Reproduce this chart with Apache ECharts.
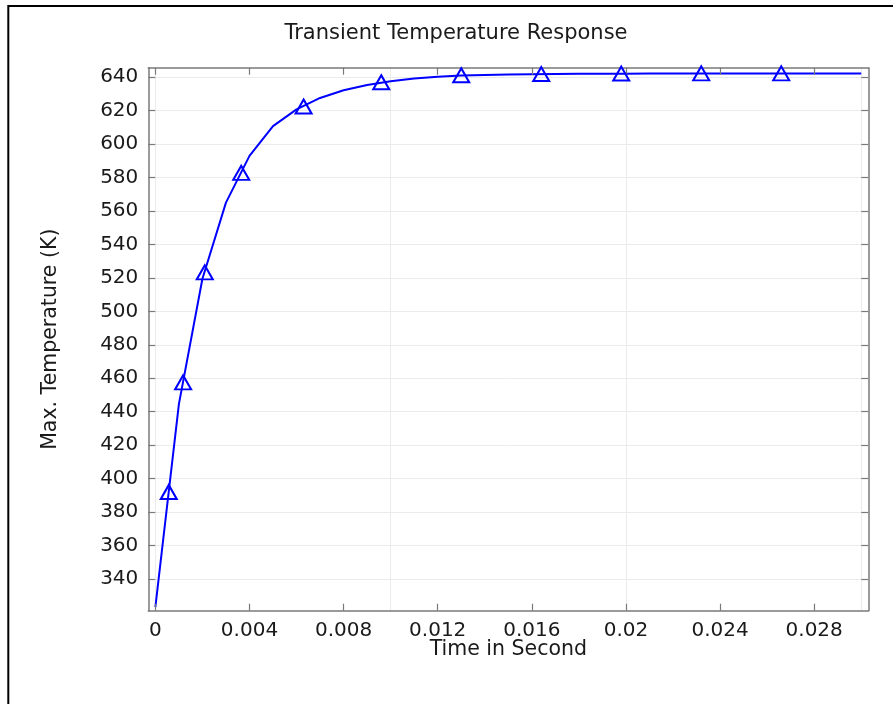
<!DOCTYPE html>
<html>
<head>
<meta charset="utf-8">
<script src="https://cdn.jsdelivr.net/npm/echarts@6/dist/echarts.min.js"></script>
<style>
html,body{margin:0;padding:0;background:#ffffff;}
#chart{width:893px;height:704px;}
</style>
</head>
<body>
<div id="chart"></div>
<script>
// ---- data ----
const timeSeconds = [0, 0.001, 0.002, 0.003, 0.004, 0.005, 0.006, 0.007, 0.008, 0.009, 0.010,
  0.011, 0.012, 0.013, 0.014, 0.015, 0.016, 0.017, 0.018, 0.019, 0.020,
  0.021, 0.022, 0.023, 0.024, 0.025, 0.026, 0.027, 0.028, 0.029, 0.030];
const maxTemperature = [323.15, 444.5, 519.5, 565.0, 593.0, 610.8, 620.8, 627.6, 632.2, 635.4, 637.6,
  639.3, 640.3, 641.0, 641.4, 641.6, 641.8, 641.95, 642.05, 642.1, 642.15,
  642.2, 642.2, 642.25, 642.25, 642.3, 642.3, 642.3, 642.3, 642.3, 642.3];
const markerTimes = [0.00057, 0.00118, 0.0021, 0.00365, 0.0063, 0.0096, 0.0130, 0.0164, 0.0198, 0.0232, 0.0266];
const markerTemps = [392.0, 457.5, 523.3, 582.8, 622.5, 637.0, 641.2, 641.9, 642.2, 642.3, 642.3];

const xTickValues = [0, 0.004, 0.008, 0.012, 0.016, 0.02, 0.024, 0.028];
const xTickLabels = ['0', '0.004', '0.008', '0.012', '0.016', '0.02', '0.024', '0.028'];
const xGridValues = [0, 0.002, 0.004, 0.006, 0.008, 0.010, 0.012, 0.014, 0.016, 0.018, 0.020,
  0.022, 0.024, 0.026, 0.028, 0.030];
const yTickValues = [340, 360, 380, 400, 420, 440, 460, 480, 500, 520, 540, 560, 580, 600, 620, 640];
const yTickLabels = ['340', '360', '380', '400', '420', '440', '460', '480', '500', '520', '540', '560', '580', '600', '620', '640'];

const titleText = 'Transient Temperature Response';
const xAxisName = 'Time in Second';
const yAxisName = 'Max. Temperature (K)';

// ---- chart ----
const FONT = 'DejaVu Sans';
const TEXT_COLOR = '#1a1a1a';
const FRAME_COLOR = '#7a7a7a';
const GRID_COLOR = '#ebebeb';
const BLUE = '#0000ff';

const xRange = [-0.0003, 0.0303];
const yRange = [321, 645.7];

function labelFor(values, labels) {
  return function (v) {
    for (let i = 0; i < values.length; i++) {
      if (Math.abs(values[i] - v) < 1e-9) return labels[i];
    }
    return '';
  };
}

const lineData = timeSeconds.map((t, i) => [t, maxTemperature[i]]);
const markerData = markerTimes.map((t, i) => [t, markerTemps[i]]);
const gridLineData = xGridValues.map(v => ({ xAxis: v })).concat(yTickValues.map(v => ({ yAxis: v })));

const axisLineStyle = { show: true, onZero: false, lineStyle: { color: FRAME_COLOR, width: 1.5 } };

const chart = echarts.init(document.getElementById('chart'), null, { renderer: 'canvas' });
chart.setOption({
  animation: false,
  backgroundColor: '#ffffff',
  title: {
    text: titleText,
    left: 451,
    top: 18,
    textAlign: 'center',
    textStyle: { fontFamily: FONT, fontSize: 21, fontWeight: 'normal', color: TEXT_COLOR }
  },
  graphic: [{
    type: 'rect',
    shape: { x: 8.3, y: 6, width: 1200, height: 1200 },
    style: { fill: 'none', stroke: '#000000', lineWidth: 2 },
    silent: true,
    z: 100
  }],
  grid: { left: 148.3, right: 24.7, top: 67.7, bottom: 93.3, containLabel: false },
  xAxis: [{
    type: 'value', position: 'bottom', min: xRange[0], max: xRange[1], z: 3,
    axisLine: axisLineStyle,
    axisTick: { show: true, inside: true, length: 7, customValues: xTickValues, lineStyle: { color: FRAME_COLOR, width: 1.2 } },
    axisLabel: { show: true, customValues: xTickValues, formatter: labelFor(xTickValues, xTickLabels),
      margin: 10, fontFamily: FONT, fontSize: 20, color: TEXT_COLOR },
    splitLine: { show: false },
    name: xAxisName, nameLocation: 'middle', nameGap: 28, nameMoveOverlap: false,
    nameTextStyle: { fontFamily: FONT, fontSize: 20.5, color: TEXT_COLOR }
  }, {
    type: 'value', position: 'top', min: xRange[0], max: xRange[1], z: 3,
    axisLine: axisLineStyle,
    axisTick: { show: true, inside: true, length: 7, customValues: xTickValues, lineStyle: { color: FRAME_COLOR, width: 1.2 } },
    axisLabel: { show: false },
    splitLine: { show: false }
  }],
  yAxis: [{
    type: 'value', position: 'left', min: yRange[0], max: yRange[1], z: 3,
    axisLine: axisLineStyle,
    axisTick: { show: true, inside: true, length: 7, customValues: yTickValues, lineStyle: { color: FRAME_COLOR, width: 1.2 } },
    axisLabel: { show: true, customValues: yTickValues, formatter: labelFor(yTickValues, yTickLabels),
      margin: 10, fontFamily: FONT, fontSize: 20, color: TEXT_COLOR },
    splitLine: { show: false },
    name: yAxisName, nameLocation: 'middle', nameGap: 87, nameRotate: 90, nameMoveOverlap: false,
    nameTextStyle: { fontFamily: FONT, fontSize: 20.5, color: TEXT_COLOR }
  }, {
    type: 'value', position: 'right', min: yRange[0], max: yRange[1], z: 3,
    axisLine: axisLineStyle,
    axisTick: { show: true, inside: true, length: 7, customValues: yTickValues, lineStyle: { color: FRAME_COLOR, width: 1.2 } },
    axisLabel: { show: false },
    splitLine: { show: false }
  }],
  series: [{
    name: 'grid',
    type: 'line',
    data: [],
    silent: true,
    markLine: {
      silent: true,
      z: 1,
      symbol: ['none', 'none'],
      label: { show: false },
      emphasis: { disabled: true },
      lineStyle: { color: GRID_COLOR, width: 1, type: 'solid' },
      animation: false,
      data: gridLineData
    }
  }, {
    name: 'Max. Temperature',
    type: 'line',
    xAxisIndex: 0, yAxisIndex: 0,
    data: lineData,
    showSymbol: false,
    smooth: false,
    silent: true,
    z: 2,
    lineStyle: { color: BLUE, width: 2 }
  }, {
    name: 'markers',
    type: 'scatter',
    xAxisIndex: 0, yAxisIndex: 0,
    data: markerData,
    symbol: 'triangle',
    symbolSize: [16, 14],
    silent: true,
    z: 4,
    itemStyle: { color: 'rgba(0,0,0,0)', borderColor: BLUE, borderWidth: 2, opacity: 1 }
  }]
});
</script>
</body>
</html>
